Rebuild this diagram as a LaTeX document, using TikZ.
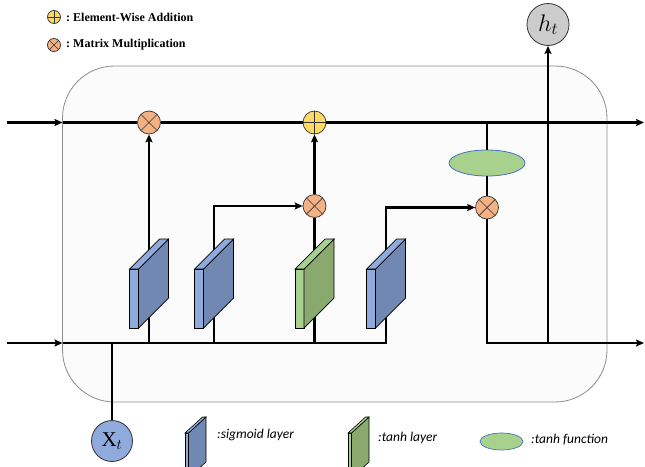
\RequirePackage{fix-cm}
\documentclass[tikz,border=0pt]{standalone}
\usepackage{fontspec}
\setmainfont{Liberation Serif}
\newfontfamily\legendfont{Carlito}
\usetikzlibrary{arrows.meta,positioning,shapes.geometric}

\definecolor{mulorange}{HTML}{F4B183}
\definecolor{addyellow}{HTML}{FFD966}
\definecolor{sigfront}{HTML}{8FAADC}
\definecolor{sigside}{HTML}{7088B2}
\definecolor{tanhfront}{HTML}{A9D18E}
\definecolor{tanhside}{HTML}{89A96F}
\definecolor{ellborder}{HTML}{4472C4}
\definecolor{cellfill}{HTML}{FBFBFB}

% gate layer drawn as a slab, #1 = x of its centre
\newcommand{\gatelayer}[3]{%
  \begin{scope}[shift={(#1,0)}]
    \filldraw[fill=#2, line width=0.7pt] (-19.5,269) rectangle (-10.5,328);
    \filldraw[fill=#3, line width=0.7pt] (-10.5,269) -- (19.5,239) -- (19.5,298) -- (-10.5,328) -- cycle;
    \filldraw[fill=#2, line width=0.7pt] (-19.5,269) -- (-10.5,269) -- (19.5,239) -- (10.5,239) -- cycle;
  \end{scope}}
% small slab for the key, #1 = x of its front edge
\newcommand{\keylayer}[3]{%
  \begin{scope}[shift={(#1,0)}]
    \filldraw[fill=#2, line width=0.6pt] (0,433) rectangle (3.5,478);
    \filldraw[fill=#3, line width=0.6pt] (3.5,433) -- (21,417) -- (21,462) -- (3.5,478) -- cycle;
    \filldraw[fill=#2, line width=0.6pt] (0,433) -- (3.5,433) -- (21,417) -- (17.5,417) -- cycle;
  \end{scope}}

\begin{document}
\begin{tikzpicture}[x=1pt, y=-1pt,
    flow/.style={line width=2.2pt},
    tip/.style={-{Stealth[length=8pt, width=7pt, inset=1.5pt]}},
    mult/.style={circle, draw=black!80, line width=0.7pt, fill=mulorange, minimum size=23pt, inner sep=0pt,
      path picture={\draw[line width=0.7pt] (path picture bounding box.north west) -- (path picture bounding box.south east)
        (path picture bounding box.north east) -- (path picture bounding box.south west);}},
    plus/.style={circle, draw=black!80, line width=0.7pt, fill=addyellow, minimum size=23pt, inner sep=0pt,
      path picture={\draw[line width=0.7pt] (path picture bounding box.north) -- (path picture bounding box.south)
        (path picture bounding box.west) -- (path picture bounding box.east);}},
    keytext/.style={anchor=west, inner sep=0pt, font=\legendfont\itshape\fontsize{13.5}{15}\selectfont}]
\useasboundingbox (0,0) rectangle (645,466);
\clip (0,0) rectangle (645,466);

% cell
\draw[draw=black!45, fill=cellfill, line width=0.8pt, rounded corners=52pt] (62.5,66) rectangle (607,402);

% key
\node[plus, minimum size=13pt] (addkey) at (54,17) {};
\node[anchor=west, inner sep=0pt, font=\bfseries\fontsize{12}{14}\selectfont] (addtext) at (66,17) {:\ Element-Wise Addition};
\node[mult, minimum size=13pt] (mulkey) at (54,45) {};
\node[anchor=west, inner sep=0pt, font=\bfseries\fontsize{12}{14}\selectfont] (multext) at (66,45) {:\ Matrix Multiplication};

% operations
\node[mult] (mulf) at (149,122.5) {};
\node[plus] (add) at (314.5,122.5) {};
\node[mult] (mulc) at (314.5,206) {};
\node[mult] (mulo) at (487,207.5) {};
\node[ellipse, draw=ellborder, line width=0.8pt, fill=tanhfront, minimum width=76pt, minimum height=26pt, inner sep=0pt] (tanhf) at (487,163) {};
\node[circle, draw=black!80, line width=0.8pt, fill=black!20, minimum size=42pt, inner sep=0pt, font=\fontsize{24}{26}\selectfont] (ht) at (548,24.5) {$h_t$};
\node[circle, draw=black!80, line width=0.8pt, fill=sigfront, minimum size=41pt, inner sep=0pt, font=\fontsize{21}{23}\selectfont] (xt) at (112,441) {$\mathrm{X}_t$};

\coordinate (cin) at (7,122.5);
\coordinate (cl) at (62.5,122.5);
\coordinate (cout) at (644,122.5);
\coordinate (tap) at (487,122.5);
\coordinate (hin) at (7,343);
\coordinate (hl) at (62.5,343);
\coordinate (hjoin) at (112,343);
\coordinate (g1b) at (149,343);
\coordinate (g2b) at (214,343);
\coordinate (g2turn) at (214,206);
\coordinate (g3b) at (314.5,343);
\coordinate (g4b) at (386,343);
\coordinate (g4turn) at (386,207.5);
\coordinate (hcorner) at (487,343);
\coordinate (hbranch) at (548,343);
\coordinate (hout) at (644,343);

% cell state
\draw[flow, tip] (cin) -- (cl);
\draw[flow] (cl) -- (mulf);
\draw[flow] (mulf) -- (add);
\draw[flow, tip] (add) -- (cout);
\draw[flow] (tap) -- (tanhf);
\draw[flow] (tanhf) -- (mulo);

% hidden state and gates
\draw[flow, tip] (hin) -- (hl);
\draw[flow, tip] (hl) -- (g4b) -- (g4turn) -- (mulo);
\draw[flow] (xt) -- (hjoin);
\draw[flow, tip] (g1b) -- (mulf);
\draw[flow, tip] (g2b) -- (g2turn) -- (mulc);
\draw[flow] (g3b) -- (mulc);
\draw[flow, tip] (mulc) -- (add);
\draw[flow, tip] (mulo) -- (hcorner) -- (hout);
\draw[flow, tip] (hbranch) -- (ht);

\gatelayer{149}{sigfront}{sigside}
\gatelayer{214}{sigfront}{sigside}
\gatelayer{314.5}{tanhfront}{tanhside}
\gatelayer{386}{sigfront}{sigside}

% bottom key
\keylayer{185}{sigfront}{sigside}
\node[keytext] (sigtext) at (217,435) {:sigmoid layer};
\keylayer{348}{tanhfront}{tanhside}
\node[keytext] (tanhtext) at (378,438) {:tanh layer};
\node[ellipse, draw=ellborder, line width=0.7pt, fill=tanhfront, minimum width=43pt, minimum height=17pt, inner sep=0pt] (ellkey) at (501.5,441.5) {};
\node[keytext] (functext) at (531,440) {:tanh function};
\end{tikzpicture}
\end{document}
